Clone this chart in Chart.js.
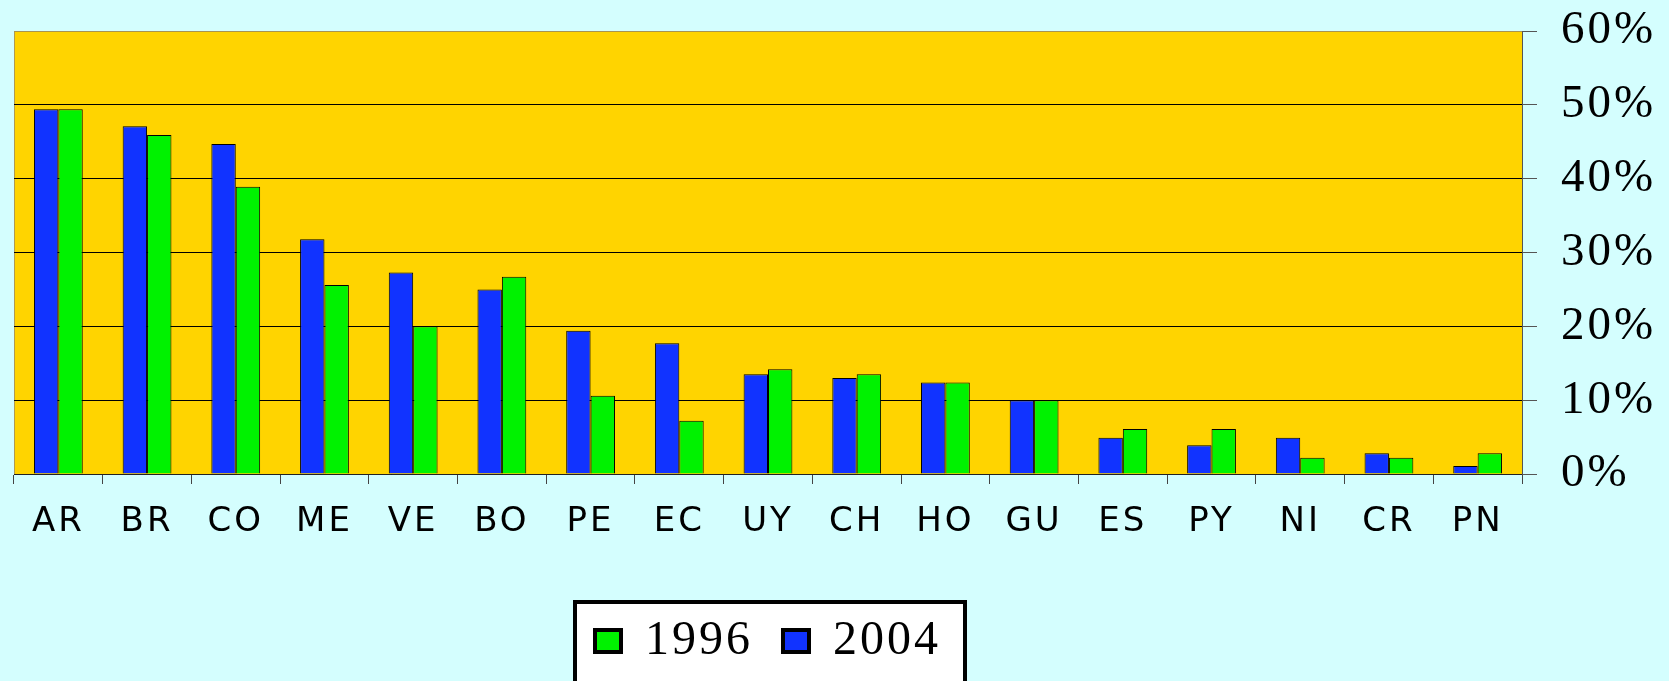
<!DOCTYPE html>
<html>
<head>
<meta charset="utf-8">
<script src="https://cdn.jsdelivr.net/npm/chart.js@4/dist/chart.umd.min.js"></script>
<style>
  html, body { margin: 0; padding: 0; background: #d4fefe; }
  canvas { display: block; }
</style>
</head>
<body>
<canvas id="bars" width="1669" height="681"></canvas>
<script>
// country codes along the x axis
const categories = ['AR', 'BR', 'CO', 'ME', 'VE', 'BO', 'PE', 'EC', 'UY', 'CH', 'HO', 'GU', 'ES', 'PY', 'NI', 'CR', 'PN'];
// percent values
const values2004 = [49.4, 47.1, 44.7, 31.8, 27.3, 25.0, 19.4, 17.7, 13.5, 13.0, 12.4, 10.0, 4.9, 3.9, 4.9, 2.8, 1.1];
const values1996 = [49.4, 45.9, 38.9, 25.6, 20.0, 26.7, 10.6, 7.2, 14.2, 13.5, 12.4, 10.0, 6.1, 6.1, 2.2, 2.2, 2.8];
const yMin = 0;
const yMax = 60;
const yStep = 10;

const plotColor = '#ffd400';

// gold plot area, left edge and the framed white legend box
const backdrop = {
  id: 'backdrop',
  beforeUpdate(chart) { chart.ctx.letterSpacing = '3px'; },
  beforeDraw(chart) {
    const ctx = chart.ctx;
    ctx.letterSpacing = '3px';
    const a = chart.chartArea;
    ctx.save();
    ctx.fillStyle = plotColor;
    ctx.fillRect(a.left, a.top, a.right - a.left, a.bottom - a.top);
    ctx.strokeStyle = '#b09a50';
    ctx.lineWidth = 1;
    ctx.beginPath();
    ctx.moveTo(a.left + 0.5, a.top);
    ctx.lineTo(a.left + 0.5, a.bottom);
    ctx.stroke();

    const hb = chart.legend && chart.legend.legendHitBoxes;
    if (hb && hb.length) {
      const last = hb[hb.length - 1];
      const x0 = hb[0].left - 20;
      const x1 = last.left + last.width + 24;
      const y0 = hb[0].top - 15;
      ctx.fillStyle = '#ffffff';
      ctx.fillRect(x0, y0, x1 - x0, chart.height - y0 + 20);
      ctx.strokeStyle = '#000';
      ctx.lineWidth = 4;
      ctx.strokeRect(x0, y0, x1 - x0, chart.height - y0 + 20);
    }
    ctx.restore();
  }
};

const chart = new Chart(document.getElementById('bars').getContext('2d'), {
  type: 'bar',
  data: {
    labels: categories,
    datasets: [{
      label: '2004',
      data: values2004,
      backgroundColor: '#1133ff',
      borderColor: '#000',
      borderWidth: 1,
    }, {
      label: '1996',
      data: values1996,
      backgroundColor: '#00f200',
      borderColor: '#000',
      borderWidth: 1,
    }]
  },
  options: {
    responsive: false,
    animation: false,
    layout: { autoPadding: false, padding: { left: 14, top: 31, right: 0, bottom: 6 } },
    datasets: { bar: { categoryPercentage: 0.55, barPercentage: 1 } },
    scales: {
      x: {
        grid: { offset: true, drawOnChartArea: false, drawTicks: true, tickLength: 10, tickColor: '#444' },
        border: { color: '#222' },
        ticks: {
          color: '#000',
          font: { family: 'DejaVu Sans', size: 34 },
          padding: 18,
          maxRotation: 0,
          autoSkip: false
        },
        afterFit: s => { s.height = 113; }
      },
      y: {
        position: 'right',
        min: yMin,
        max: yMax,
        grid: {
          color: c => (c.tick && c.tick.value === yMax ? '#a89450' : '#000'),
          tickLength: 15,
          tickColor: '#555'
        },
        border: { color: '#555' },
        ticks: {
          stepSize: yStep,
          callback: v => v + '%',
          color: '#000',
          font: { family: 'Liberation Serif', size: 47 },
          padding: 24
        },
        afterFit: s => {
          s.width = 147;
          s.paddingTop = 0;
          s.paddingBottom = 0;
        }
      }
    },
    plugins: {
      legend: {
        position: 'bottom',
        fullSize: false,
        reverse: true,
        labels: {
          color: '#000',
          font: { family: 'Liberation Serif', size: 48 },
          boxWidth: 26,
          boxHeight: 22,
          padding: 30,
          generateLabels: c => {
            const items = Chart.defaults.plugins.legend.labels.generateLabels(c);
            items.forEach(it => { it.strokeStyle = '#000'; it.lineWidth = 4; });
            return items;
          }
        }
      },
      tooltip: { enabled: false }
    }
  },
  plugins: [backdrop]
});
</script>
</body>
</html>
